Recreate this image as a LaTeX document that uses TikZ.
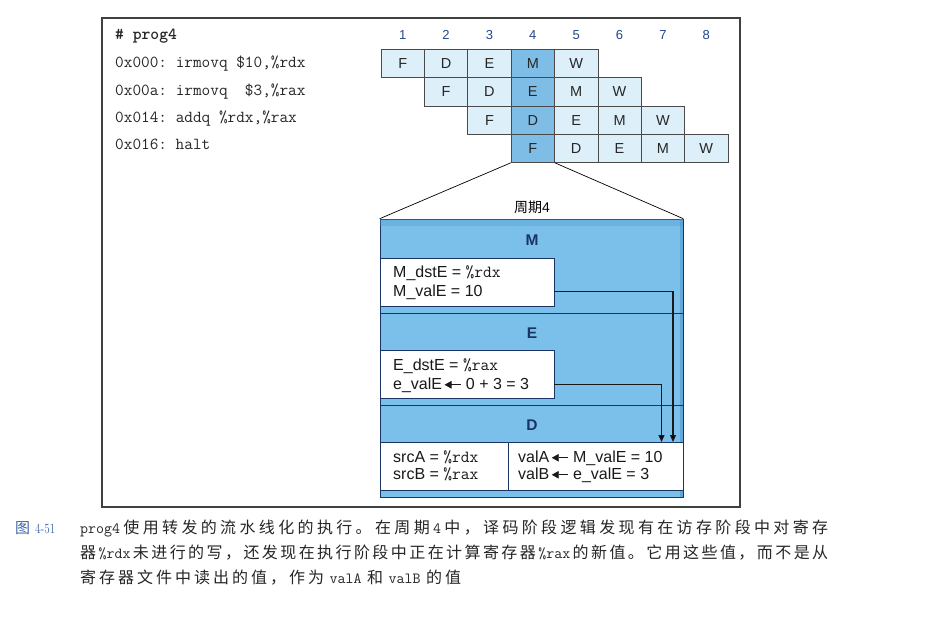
\documentclass[tikz,border=0pt]{standalone}
\usepackage{fontspec}
\usepackage{graphicx}
\newfontfamily\sff{Liberation Sans}
\newfontfamily\cjkf{Noto Sans CJK SC}
\usetikzlibrary{arrows.meta}
\definecolor{numblue}{HTML}{24478F}
\definecolor{navy}{HTML}{1B3466}
\definecolor{cellline}{HTML}{4A4A4A}
\definecolor{celll}{HTML}{DDF0FA}
\definecolor{colhi}{HTML}{7EBDE6}
\definecolor{cycb}{HTML}{7BC0EA}
\definecolor{cycd}{HTML}{4E98D2}
\definecolor{capblue}{HTML}{3D63A6}
\newdimen\cjgap \cjgap=3pt
\makeatletter
\def\cjs@end{}
\newcommand\cjs[1]{\cjs@first#1\cjs@end}
\def\cjs@first#1{#1\cjs@a}
\def\cjs@a#1{\ifx#1\cjs@end\else\hskip\cjgap plus 2pt minus 1pt\relax#1\expandafter\cjs@a\fi}
\makeatother
\newcommand\cg{\hskip\cjgap plus 2pt minus 1pt\relax}
\newcommand\cgw{\hskip 5.5pt\relax}
\newcommand\ctt[1]{{\ttfamily\fontsize{15.5}{15}\selectfont #1}}
\newcommand\vtt[1]{{\ttfamily\fontsize{17}{15}\selectfont #1}}
\newcommand\larr{\hskip2pt\tikz[baseline=-0.5ex]\draw[line width=0.8pt,-{Triangle[length=7pt,width=7.5pt]}] (16pt,0pt) -- (0pt,0pt);\hskip5pt\relax}
\begin{document}
\begin{tikzpicture}[x=1pt,y=-1pt,
  cell/.style={draw=cellline, line width=0.6pt, minimum width=43.375pt, minimum height=28.25pt, inner sep=0pt, font=\sff\fontsize{14.5}{14}\selectfont, text=black!85},
  num/.style={inner sep=0pt, font=\sff\fontsize{13}{13}\selectfont, text=numblue},
  code/.style={anchor=base west, inner sep=0pt, font=\ttfamily\fontsize{16.8}{16.8}\selectfont\frenchspacing, text=black!85},
  vtxt/.style={anchor=base west, inner sep=0pt, font=\sff\fontsize{16}{16}\selectfont, text=black!90},
  stagelab/.style={inner sep=0pt, font=\sff\bfseries\fontsize{15.5}{15}\selectfont, text=navy},
  wbox/.style={draw=navy, line width=0.5pt, fill=white, inner sep=0pt},
  fwd/.style={draw=black!90, line width=1.2pt, -{Triangle[length=7pt,width=6pt]}},
  captext/.style={anchor=base west, inner sep=0pt, font=\cjkf\fontsize{16}{16}\selectfont, text=black!85}
]
\useasboundingbox[fill=white] (0,0) rectangle (945,639);
% outer frame
\draw[line width=1.1pt, draw=black!75] (102,18) rectangle (740,507);
% code
\node[code] (l0) at (115,40) {\bfseries \# prog4};
\node[code] (l1) at (115,68) {0x000: irmovq \$10,\%rdx};
\node[code] (l2) at (115,96) {0x00a: irmovq~~\$3,\%rax};
\node[code] (l3) at (115,123) {0x014: addq \%rdx,\%rax};
\node[code] (l4) at (115,150) {0x016: halt};
% cycle numbers
\foreach \i in {1,...,8}
  \node[num] (n\i) at ({381+43.375*(\i-1)+21.6875},35) {\i};
% pipeline cells
\foreach \r in {0,1,2,3}{
  \foreach \s [count=\k from 0] in {F,D,E,M,W}{
    \pgfmathtruncatemacro\c{\r+\k+1}
    \ifnum\c=4 \def\fc{colhi}\else\def\fc{celll}\fi
    \node[cell, fill=\fc] (p\r\c) at ({381+43.375*(\c-1)+21.6875},{49.5+28.25*\r+14.125}) {\s};
  }
}
% cycle 4 box
\node[draw=navy, line width=0.6pt, fill=cycb, minimum width=303pt, minimum height=278pt, inner sep=0pt] (cyc) at (531.5,358) {};
\fill[cycd, opacity=0.6] (679.5,219.3) rectangle (682.7,496.7);
\fill[cycd, opacity=0.35] (380.3,219.3) rectangle (682.7,226);
\draw[line width=0.7pt] (p34.south west) -- (cyc.north west);
\draw[line width=0.7pt] (p34.south east) -- (cyc.north east);
\node[inner sep=0pt, font=\cjkf\fontsize{14}{14}\selectfont] (cyclab) at (532,207) {周期{\sff 4}};
\node[stagelab] (lm) at (532,240) {M};
\node[stagelab] (le) at (532,333) {E};
\node[stagelab] (ld) at (532,425) {D};
\draw[navy, line width=0.7pt] (380,313) -- (683,313);
\draw[navy, line width=0.7pt] (380,405) -- (683,405);
\node[wbox, minimum width=174pt, minimum height=48pt] (mbox) at (467,282) {};
\node[wbox, minimum width=174pt, minimum height=48pt] (ebox) at (467,374) {};
\node[wbox, minimum width=303pt, minimum height=48pt] (dbox) at (531.5,466) {};
\draw[navy, line width=0.6pt] (508,442) -- (508,490);
\node[vtxt] (t1) at (393,277) {M\_dstE = \vtt{\%rdx}};
\node[vtxt] (t2) at (393,296) {M\_valE = 10};
\node[vtxt] (t3) at (393,370) {E\_dstE = \vtt{\%rax}};
\node[vtxt] (t4) at (393,389) {e\_valE\larr 0 + 3 = 3};
\node[vtxt] (t5) at (393,462) {srcA = \vtt{\%rdx}};
\node[vtxt] (t6) at (393,479) {srcB = \vtt{\%rax}};
\node[vtxt] (t7) at (518,462) {valA\larr M\_valE = 10};
\node[vtxt] (t8) at (518,479) {valB\larr e\_valE = 3};
\coordinate (a1) at (673,442);
\coordinate (a2) at (661.5,442);
\draw[fwd] (mbox.east |- t2) -| (a1);
\draw[fwd] (ebox.east |- t4) -| (a2);
% caption
\node[anchor=base west, inner sep=0pt, text=capblue] (fig) at (15,533) {{\cjkf\fontsize{15}{15}\selectfont 图}\hskip5pt\scalebox{0.8}[1]{\fontsize{14}{14}\selectfont 4-51}};
\node[captext] (c1) at (80,533) {\makebox[748pt][s]{\ctt{prog4}\cg\cjs{使用转发的流水线化的执行。在周期}\cg\ctt{4}\cg\cjs{中，译码阶段逻辑发现有在访存阶段中对寄存}}};
\node[captext] (c2) at (80,558) {\makebox[748pt][s]{\cjs{器}\cg\ctt{\%rdx}\cg\cjs{未进行的写，还发现在执行阶段中正在计算寄存器}\cg\ctt{\%rax}\cg\cjs{的新值。它用这些值，而不是从}}};
\node[captext] (c3) at (80,583) {\cjs{寄存器文件中读出的值，作为}\cgw\ctt{valA}\cgw\cjs{和}\cgw\ctt{valB}\cgw\cjs{的值}};
\end{tikzpicture}
\end{document}
